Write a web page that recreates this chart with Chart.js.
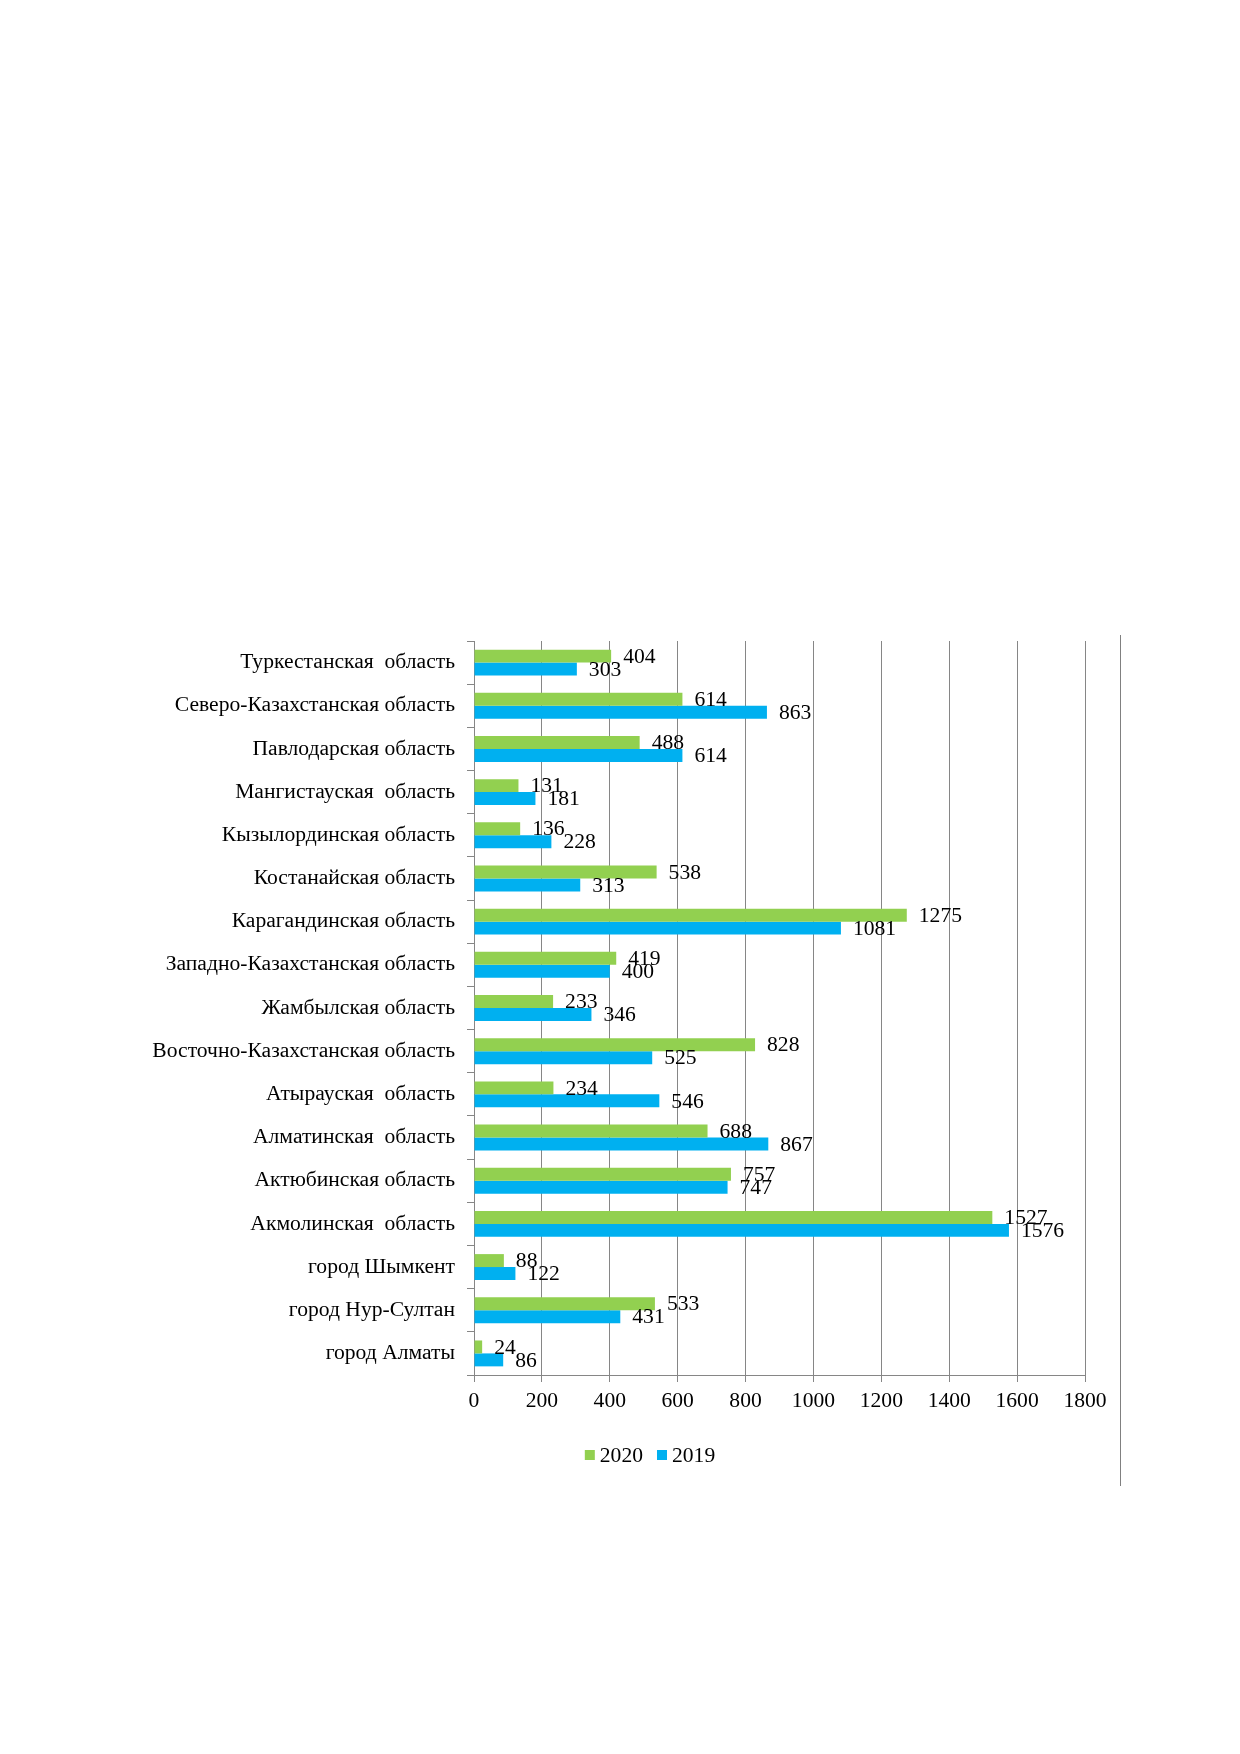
<!DOCTYPE html>
<html>
<head>
<meta charset="utf-8">
<script src="https://cdn.jsdelivr.net/npm/chart.js@4"></script>
<style>
  html, body { margin: 0; padding: 0; background: #fff; }
  #wrap { position: relative; width: 1240px; height: 1754px; }
  #regionChart { position: absolute; left: 0; top: 0; }
  .pageRule { position: absolute; left: 1120px; top: 635px; width: 0; height: 851px; border-left: 1px solid #808080; }
</style>
</head>
<body>
<div id="wrap">
  <canvas id="regionChart" width="1240" height="1754"></canvas>
  <div class="pageRule"></div>
</div>
<script>
// regions, top to bottom as in the picture
const regions = [
  "Туркестанская  область",
  "Северо-Казахстанская область",
  "Павлодарская область",
  "Мангистауская  область",
  "Кызылординская область",
  "Костанайская область",
  "Карагандинская область",
  "Западно-Казахстанская область",
  "Жамбылская область",
  "Восточно-Казахстанская область",
  "Атырауская  область",
  "Алматинская  область",
  "Актюбинская область",
  "Акмолинская  область",
  "город Шымкент",
  "город Нур-Султан",
  "город Алматы",
];

const values2020 = [404, 614, 488, 131, 136, 538, 1275, 419, 233, 828, 234, 688, 757, 1527, 88, 533, 24];
const values2019 = [303, 863, 614, 181, 228, 313, 1081, 400, 346, 525, 546, 867, 747, 1576, 122, 431, 86];

const xTicks = [0, 200, 400, 600, 800, 1000, 1200, 1400, 1600, 1800];

const FONT = "'Liberation Serif', 'Times New Roman', serif";
const FONT_SIZE = 21.6;
const GRID = "#868686";

// value labels next to the bar ends
const barLabels = {
  id: "barLabels",
  afterDatasetsDraw(chart) {
    const ctx = chart.ctx;
    ctx.save();
    ctx.font = FONT_SIZE + "px " + FONT;
    ctx.fillStyle = "#000";
    ctx.textAlign = "left";
    ctx.textBaseline = "middle";
    chart.data.datasets.forEach((ds, i) => {
      chart.getDatasetMeta(i).data.forEach((bar, j) => {
        ctx.fillText(String(ds.data[j]), bar.x + 12, bar.y + 1);
      });
    });
    ctx.restore();
  },
};

// Excel-like legend under the axis
const bottomLegend = {
  id: "bottomLegend",
  afterDraw(chart) {
    const ctx = chart.ctx;
    ctx.save();
    ctx.font = FONT_SIZE + "px " + FONT;
    ctx.textBaseline = "middle";
    const box = 10, gap = 5, spacing = 14;
    const items = chart.data.datasets.map((ds) => ({
      label: ds.label,
      color: ds.backgroundColor,
      w: box + gap + ctx.measureText(ds.label).width,
    }));
    const total = items.reduce((s, it) => s + it.w, 0) + spacing * (items.length - 1);
    let x = 650 - total / 2;
    const y = 1455;
    items.forEach((it) => {
      ctx.fillStyle = it.color;
      ctx.fillRect(x, y - box / 2, box, box);
      ctx.fillStyle = "#000";
      ctx.fillText(it.label, x + box + gap, y + 1);
      x += it.w + spacing;
    });
    ctx.restore();
  },
};

new Chart(document.getElementById("regionChart"), {
  type: "bar",
  data: {
    labels: regions,
    datasets: [
      {
        label: "2020",
        data: values2020,
        backgroundColor: "#92D050",
        categoryPercentage: 0.6,
        barPercentage: 1.0,
      },
      {
        label: "2019",
        data: values2019,
        backgroundColor: "#00B0F0",
        categoryPercentage: 0.6,
        barPercentage: 1.0,
      },
    ],
  },
  options: {
    indexAxis: "y",
    responsive: false,
    animation: false,
    devicePixelRatio: 1,
    layout: { padding: { left: 100, top: 641, right: 155, bottom: 339 } },
    plugins: {
      legend: { display: false },
      tooltip: { enabled: false },
    },
    scales: {
      x: {
        min: 0,
        max: 1800,
        afterBuildTicks: (scale) => {
          scale.ticks = xTicks.map((v) => ({ value: v }));
        },
        afterFit: (scale) => {
          scale.height = 40;
        },
        grid: { color: GRID, lineWidth: 1, tickLength: 7 },
        border: { color: GRID, width: 1 },
        ticks: {
          color: "#000",
          font: { family: FONT, size: FONT_SIZE },
          padding: 6,
          maxRotation: 0,
          callback: (value) => String(value),
        },
      },
      y: {
        afterFit: (scale) => {
          scale.width = 374;
        },
        grid: { color: GRID, drawOnChartArea: false, offset: true, tickLength: 7 },
        border: { color: GRID, width: 1 },
        ticks: {
          color: "#000",
          font: { family: FONT, size: FONT_SIZE },
          padding: 12,
          autoSkip: false,
        },
      },
    },
  },
  plugins: [barLabels, bottomLegend],
});
</script>
</body>
</html>
